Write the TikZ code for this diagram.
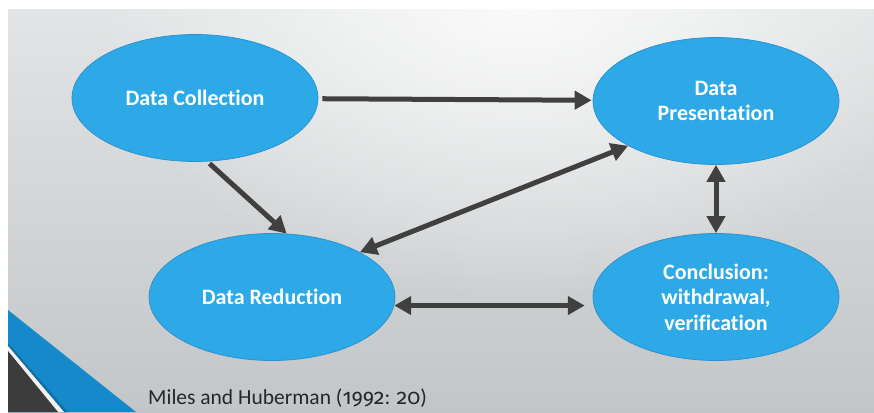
\documentclass[tikz,border=0pt]{standalone}
\usepackage{fontspec}
\setmainfont{Carlito}[Ligatures=NoCommon]
\newfontfamily\oldnums{Fira Sans}[Numbers=OldStyle]
\usetikzlibrary{arrows.meta,shapes.geometric,fadings}
\definecolor{ellfill}{HTML}{2EA9E8}
\definecolor{elldraw}{HTML}{2B8FCB}
\definecolor{arr}{HTML}{404040}
\definecolor{stripe}{HTML}{1589CA}
\definecolor{stripedark}{HTML}{0F6FA6}
\definecolor{darktri}{HTML}{3C3C3C}
\definecolor{bgtop}{HTML}{E2E4E5}
\definecolor{bgbot}{HTML}{C3C6C8}
\tikzfading[name=glowfade, inner color=transparent!0, outer color=transparent!100]
\begin{document}
\begin{tikzpicture}[x=1pt,y=-1pt,
  ell/.style={ellipse, fill=ellfill, draw=elldraw, line width=0.7pt,
    minimum width=246pt, minimum height=127pt, inner sep=0pt,
    text=white, font=\fontsize{22}{25.5}\selectfont\bfseries, align=center},
  conn/.style={draw=arr, line width=5pt, -{Triangle[length=17pt,width=18pt]}},
  dbl/.style={draw=arr, line width=5pt,
    {Triangle[length=17pt,width=18pt]}-{Triangle[length=17pt,width=18pt]}}]
\useasboundingbox (0,0) rectangle (874,412);
\fill[white] (0,0) rectangle (874,412);
\begin{scope}
  \clip (8,10) rectangle (874,412);
  \shade[top color=bgtop, bottom color=bgbot] (8,10) rectangle (874,412);
  \fill[white, path fading=glowfade, opacity=0.85] (520,0) ellipse (430pt and 300pt);
  % corner stripes
  \fill[stripe] (8,310) -- (136,412) -- (8,412) -- cycle;
  \fill[stripedark] (8,343) -- (68,412) -- (8,412) -- cycle;
  \fill[white!90!gray] (8,346) -- (64,412) -- (8,412) -- cycle;
  \fill[darktri] (8,351) -- (58,412) -- (8,412) -- cycle;
\end{scope}

\node[ell] (dc) at (195,98) {Data Collection};
\node[ell] (dp) at (716,101) {Data\\Presentation};
\node[ell] (dr) at (272,297) {Data Reduction};
\node[ell] (cv) at (716,297) {Conclusion:\\withdrawal,\\verification};

\node[anchor=base west, font=\fontsize{21.5}{24}\selectfont, text=black!85, inner sep=0pt]
  (src) at (148,404) {Miles and Huberman ({\oldnums 1992}: {\oldnums 20})};

\draw[conn, shorten <=4pt, shorten >=1pt] (dc) -- (dp);
\draw[conn, shorten <=3pt] (dc.-79) -- (dr.77);
\draw[dbl] (dr.27) -- (dp.207.6);
\draw[dbl] (dp) -- (cv);
\draw[dbl, shorten >=9pt] (dr.-4) -- (cv.184);
\end{tikzpicture}
\end{document}
